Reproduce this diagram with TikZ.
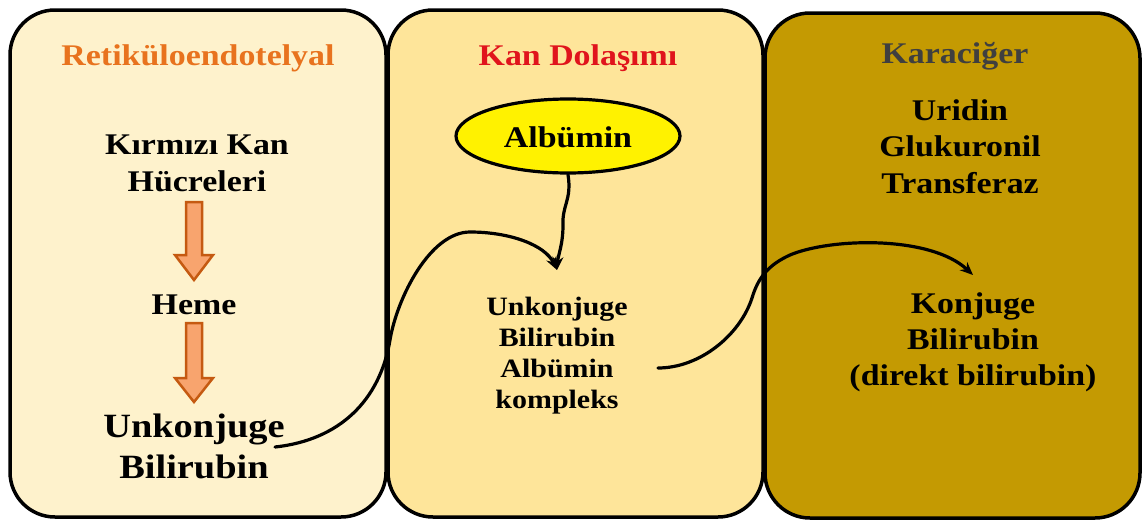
\documentclass[tikz,border=0pt]{standalone}
\usepackage{fontspec}
\setmainfont{Liberation Serif}[FakeStretch=1.13]
\usetikzlibrary{shapes.geometric,arrows.meta,calc}
\definecolor{boxA}{HTML}{FEF2CC}
\definecolor{boxB}{HTML}{FEE59A}
\definecolor{boxC}{HTML}{C49A02}
\definecolor{ttlA}{HTML}{E8731E}
\definecolor{ttlB}{HTML}{E0141C}
\definecolor{ttlC}{HTML}{3F3F3F}
\definecolor{barrowfill}{HTML}{F8A46E}
\definecolor{barrowline}{HTML}{C55A11}
\tikzset{
  panel/.style={draw=black, line width=3.5pt, rounded corners=45pt},
  txt/.style={inner sep=0pt, anchor=base, align=center, text=black,
    font=\bfseries\fontsize{30}{37}\selectfont},
  blockarrow/.style={draw=barrowline, fill=barrowfill, line width=2.5pt, line join=miter},
  conn/.style={draw=black, line width=3.2pt, line cap=round,
    -{Stealth[length=13pt,width=11pt]}},
}
\begin{document}
\begin{tikzpicture}[x=1pt,y=-1pt]
\useasboundingbox (0,0) rectangle (1143,522);
% panels
\path[panel, fill=boxA] (10,10) rectangle (386,517);
\path[panel, fill=boxB] (388,10) rectangle (763,517);
\path[panel, fill=boxC] (765,13) rectangle (1140,518);
% titles
\node[txt, text=ttlA] (t1) at (198,65) {Retiküloendotelyal};
\node[txt, text=ttlB] (t2) at (578,65) {Kan Dolaşımı};
\node[txt, text=ttlC] (t3) at (955,63) {Karaciğer};
% left panel (base anchor = last line baseline)
\node[txt] (krk) at (197,191) {Kırmızı Kan\\Hücreleri};
\node[txt] (heme) at (194,314) {Heme};
\node[txt, font=\bfseries\fontsize{34}{41}\selectfont] (ub) at (194,478) {Unkonjuge\\Bilirubin};
% block arrows
\path[blockarrow] (186,202) -- (202,202) -- (202,255) -- (213,255) -- (194,280) -- (175,255) -- (186,255) -- cycle;
\path[blockarrow] (186,323) -- (202,323) -- (202,378) -- (213,378) -- (194,402) -- (175,378) -- (186,378) -- cycle;
% middle panel
\node[ellipse, draw=black, line width=3.2pt, fill=yellow, minimum width=224pt, minimum height=74pt, inner sep=0pt] (albe) at (568,136) {};
\node[txt] (alb) at (568,147) {Albümin};
\node[txt, font=\bfseries\fontsize{26.5}{31}\selectfont] (ubak) at (557,408) {Unkonjuge\\Bilirubin\\Albümin\\kompleks};
% right panel
\node[txt, font=\bfseries\fontsize{30}{36.5}\selectfont] (ugt) at (960,193) {Uridin\\Glukuronil\\Transferaz};
\node[txt, font=\bfseries\fontsize{30}{36}\selectfont] (kb) at (973,385) {Konjuge\\Bilirubin\\(direkt bilirubin)};
% connectors
\coordinate (tip1) at (557,270);
\coordinate (src1) at (275,447);
\coordinate (src3) at (658,368);
\coordinate (tip3) at (973,275);
\draw[conn] (src1) .. controls (340,440) and (380,400) .. (390,340)
  .. controls (397,298) and (430,232) .. (470,232)
  .. controls (510,232) and (545,245) .. (tip1);
\draw[conn] (albe.south) .. controls (572,200) and (562,205) .. (563,225)
  .. controls (563,245) and (558,255) .. (tip1);
\draw[conn] (src3) .. controls (700,368) and (740,335) .. (752,298)
  .. controls (758,278) and (768,265) .. (790,255)
  .. controls (830,238) and (930,235) .. (tip3);
\end{tikzpicture}
\end{document}
